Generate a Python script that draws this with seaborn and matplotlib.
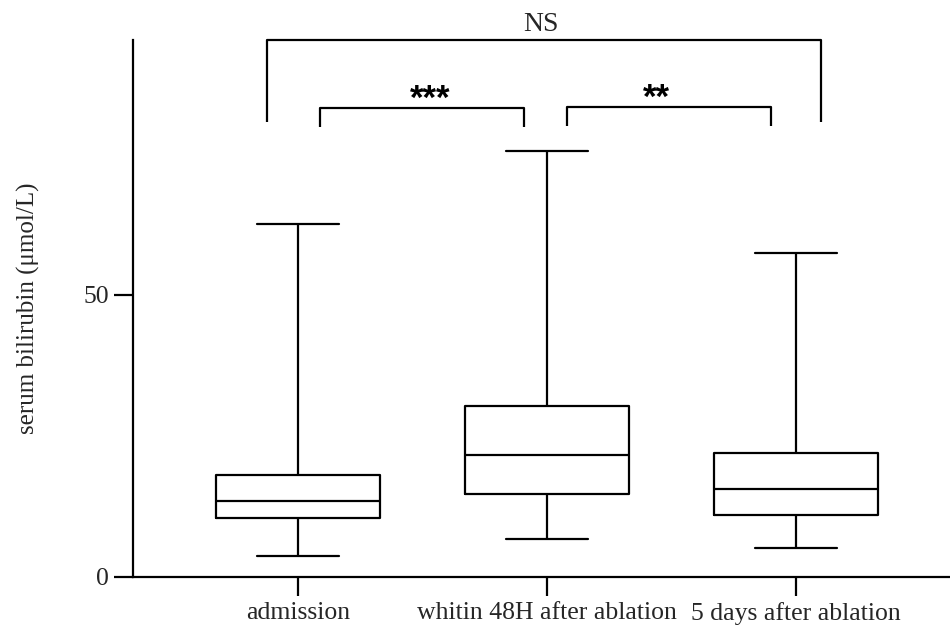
import matplotlib
matplotlib.use("Agg")
import matplotlib.pyplot as plt
import seaborn as sns
import pandas as pd

# Five-number summaries (min, Q1, median, Q3, max)
categories = ["admission", "whitin 48H after ablation", "5 days after ablation"]
admission = [3.7, 10.4, 13.35, 18.1, 62.6]
within_48h = [6.6, 14.7, 21.5, 30.35, 75.5]
five_days = [5.1, 10.9, 15.6, 22.0, 57.4]
y_ticks = [0, 50]
y_label = "serum bilirubin (μmol/L)"

# significance annotations: (group a, group b, label)
comparisons = [(0, 2, "NS"), (0, 1, "***"), (1, 2, "**")]

rows = []
for cat, vals in zip(categories, [admission, within_48h, five_days]):
    for v in vals:
        rows.append({"group": cat, "value": v})
df = pd.DataFrame(rows)

sns.set_style("ticks")
plt.rcParams["font.family"] = ["Liberation Serif", "DejaVu Serif"]

fig = plt.figure(figsize=(9.5, 6.29), dpi=100)
ax = fig.add_axes([0.1405, 0.0832, 0.8595, 0.8532])

sns.boxplot(data=df, x="group", y="value", order=categories,
            whis=(0, 100), width=0.66, fill=False, color="black",
            linewidth=1.6, showfliers=False, ax=ax)

ax.set_ylim(0, 95.2)
ax.set_xlim(-0.66, 2.62)
ax.set_yticks(y_ticks)
ax.tick_params(axis="both", length=13.5, width=1.6, labelsize=18.5, color="black")
ax.tick_params(axis="x", pad=5)
ax.tick_params(axis="y", pad=4)
ax.set_xlabel("")
ax.set_ylabel(y_label, fontsize=18, labelpad=31)
for side in ["top", "right"]:
    ax.spines[side].set_visible(False)
for side in ["left", "bottom"]:
    ax.spines[side].set_linewidth(1.6)
    ax.spines[side].set_color("black")

lw = 1.6
star_font = dict(fontsize=25, fontweight="bold", color="black",
                 family=["Liberation Sans", "DejaVu Sans"])

# NS bracket
a, b, lab = comparisons[0]
xa, xb = a - 0.125, b + 0.1
ax.plot([xa, xa, xb, xb], [80.7, 95.2, 95.2, 80.7], color="black", lw=lw,
        clip_on=False, solid_capstyle="butt")
ax.text((xa + xb) / 2 - 0.01, 96.8, lab, ha="center", va="baseline", fontsize=20)

# *** bracket
a, b, lab = comparisons[1]
xa, xb = a + 0.09, b - 0.09
ax.plot([xa, xa, xb, xb], [79.8, 83.2, 83.2, 79.8], color="black", lw=lw,
        clip_on=False, solid_capstyle="butt")
ax.text((xa + xb) / 2 + 0.03, 83.0, lab, ha="center", va="baseline", **star_font)

# ** bracket
a, b, lab = comparisons[2]
xa, xb = a + 0.08, b - 0.1
ax.plot([xa, xa, xb, xb], [80.0, 83.4, 83.4, 80.0], color="black", lw=lw,
        clip_on=False, solid_capstyle="butt")
ax.text((xa + xb) / 2 - 0.05, 83.2, lab, ha="center", va="baseline", **star_font)

fig.savefig("out.png", dpi=100, facecolor="white")
